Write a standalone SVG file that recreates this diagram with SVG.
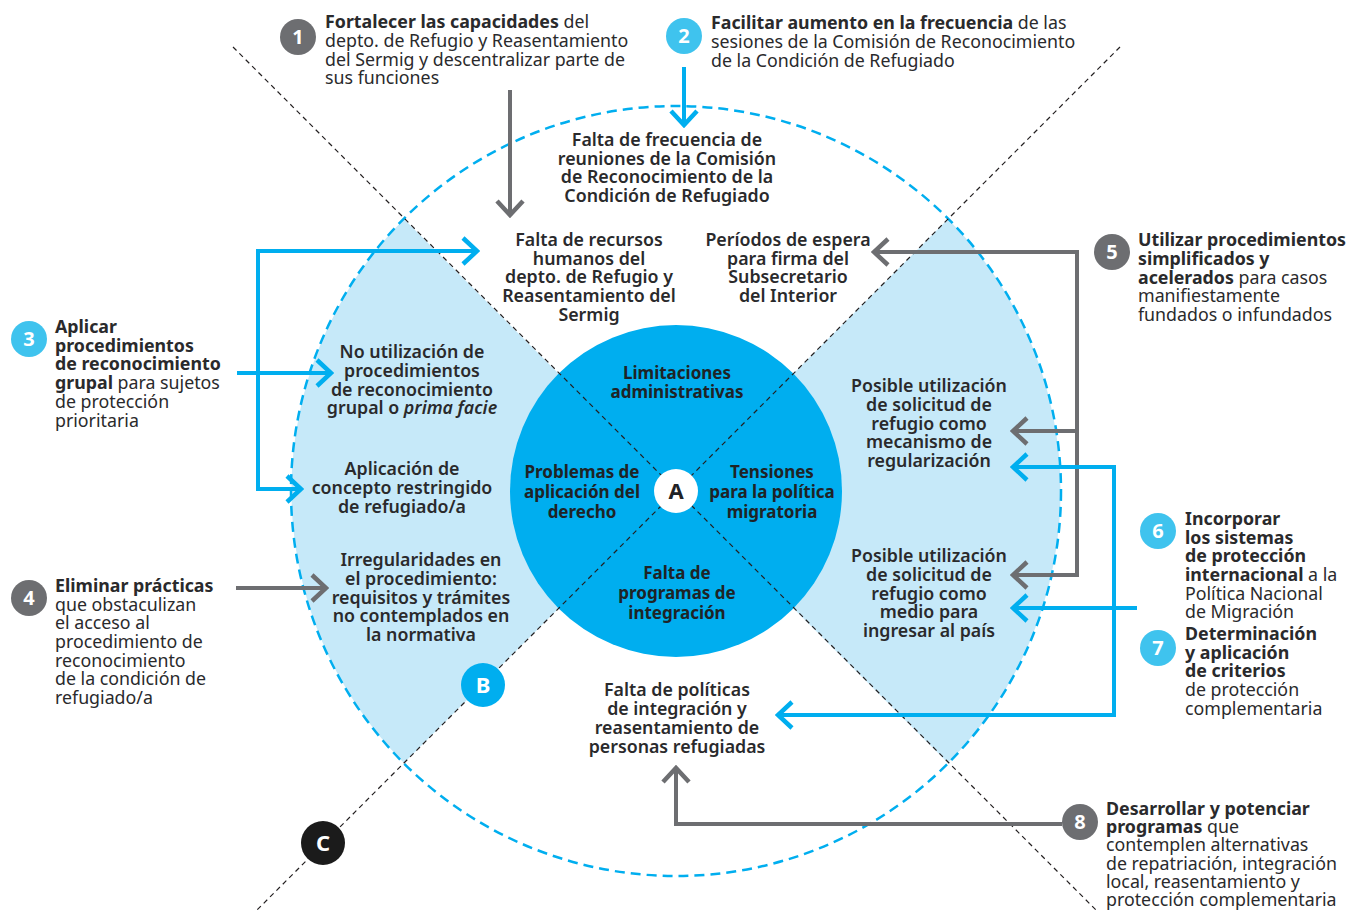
<svg xmlns="http://www.w3.org/2000/svg" width="1353" height="911" viewBox="0 0 1353 911">
<style>
text{font-family:"Noto Sans","Liberation Sans",sans-serif;fill:#2a2a2c;}
.it{font-size:17.8px;}
.b{font-weight:700;}
.nd{font-size:17.8px;font-weight:600;text-anchor:middle;}
.cn{font-size:17px;font-weight:700;text-anchor:middle;fill:#1f2326;}
.num{font-size:20px;font-weight:700;text-anchor:middle;fill:#fff;}
.ab{fill:none;stroke:#00AEEF;stroke-width:4;}
.ag{fill:none;stroke:#6D6E71;stroke-width:4;}
.diag{stroke:#231F20;stroke-width:1.2;stroke-dasharray:5 4;fill:none;}
</style>
<defs>
<marker id="mb" viewBox="0 0 20 30" refX="17" refY="15" markerWidth="20" markerHeight="30" markerUnits="userSpaceOnUse" orient="auto-start-reverse"><path d="M3,2 L17,15 L3,28" fill="none" stroke="#00AEEF" stroke-width="4.5"/></marker>
<marker id="mg" viewBox="0 0 20 30" refX="17" refY="15" markerWidth="20" markerHeight="30" markerUnits="userSpaceOnUse" orient="auto-start-reverse"><path d="M3,2 L17,15 L3,28" fill="none" stroke="#6D6E71" stroke-width="4.5"/></marker>
</defs>
<rect width="1353" height="911" fill="#fff"/>
<g id="background">
<path d="M676,491 L404,219 A385,385 0 0 0 404,763 Z" fill="#C6E9F9"/>
<path d="M676,491 L948,219 A385,385 0 0 1 948,763 Z" fill="#C6E9F9"/>
<circle cx="676" cy="491" r="385" fill="none" stroke="#00AEEF" stroke-width="2.5" stroke-dasharray="10 6"/>
<circle cx="676" cy="491" r="166" fill="#00AEEF"/>
<line class="diag" x1="233" y1="47" x2="1100" y2="914"/>
<line class="diag" x1="1120" y1="47" x2="256" y2="911"/>
</g>
<g id="connectors">
<path class="ag" d="M510,90 V215" marker-end="url(#mg)"/>
<path class="ab" d="M684,67 V125" marker-end="url(#mb)"/>
<path class="ab" d="M237,373 H331" marker-end="url(#mb)"/>
<path class="ab" d="M477,251 H258 V489 H301" marker-start="url(#mb)" marker-end="url(#mb)"/>
<path class="ag" d="M236,588 H326" marker-end="url(#mg)"/>
<path class="ag" d="M874,252 H1077 V575 H1013" marker-start="url(#mg)" marker-end="url(#mg)"/>
<path class="ag" d="M1077,431 H1013" marker-end="url(#mg)"/>
<path class="ab" d="M1137,608 H1013" marker-end="url(#mb)"/>
<path class="ab" d="M1013,467 H1114 V715 H778" marker-start="url(#mb)" marker-end="url(#mb)"/>
<path class="ag" d="M1062,824 H676 V768" marker-end="url(#mg)"/>
</g>
<g id="center-a">
<circle cx="676" cy="491" r="22" fill="#fff"/>
<text x="676" y="499" class="cn" style="font-size:22px">A</text>
</g>
<g id="label-b">
<circle cx="483" cy="685" r="22" fill="#00AEEF"/>
<text x="483" y="693" class="num" style="font-size:22px">B</text>
</g>
<g id="label-c">
<circle cx="323" cy="843" r="22" fill="#1b1b1b"/>
<text x="323" y="851" class="num" style="font-size:22px">C</text>
</g>
<g id="core-limitaciones"><text class="cn" x="677"><tspan x="677" y="379">Limitaciones</tspan><tspan x="677" y="398">administrativas</tspan></text></g>
<g id="core-problemas"><text class="cn" x="582"><tspan x="582" y="478">Problemas de</tspan><tspan x="582" y="498">aplicación del</tspan><tspan x="582" y="518">derecho</tspan></text></g>
<g id="core-tensiones"><text class="cn" x="772"><tspan x="772" y="478">Tensiones</tspan><tspan x="772" y="498">para la política</tspan><tspan x="772" y="518">migratoria</tspan></text></g>
<g id="core-falta"><text class="cn" x="677"><tspan x="677" y="579">Falta de</tspan><tspan x="677" y="599">programas de</tspan><tspan x="677" y="619">integración</tspan></text></g>
<g id="node-frecuencia"><text class="nd"><tspan x="667" y="146">Falta de frecuencia de</tspan><tspan x="667" y="165">reuniones de la Comisión</tspan><tspan x="667" y="183">de Reconocimiento de la</tspan><tspan x="667" y="202">Condición de Refugiado</tspan></text></g>
<g id="node-recursos"><text class="nd"><tspan x="589" y="246">Falta de recursos</tspan><tspan x="589" y="265">humanos del</tspan><tspan x="589" y="283">depto. de Refugio y</tspan><tspan x="589" y="302">Reasentamiento del</tspan><tspan x="589" y="321">Sermig</tspan></text></g>
<g id="node-periodos"><text class="nd"><tspan x="788" y="246">Períodos de espera</tspan><tspan x="788" y="265">para firma del</tspan><tspan x="788" y="283">Subsecretario</tspan><tspan x="788" y="302">del Interior</tspan></text></g>
<g id="node-grupal"><text class="nd"><tspan x="412" y="358">No utilización de</tspan><tspan x="412" y="377">procedimientos</tspan><tspan x="412" y="396">de reconocimiento</tspan><tspan x="412" y="414">grupal o <tspan font-style="italic">prima facie</tspan></tspan></text></g>
<g id="node-concepto"><text class="nd"><tspan x="402" y="475">Aplicación de</tspan><tspan x="402" y="494">concepto restringido</tspan><tspan x="402" y="513">de refugiado/a</tspan></text></g>
<g id="node-irregularidades"><text class="nd"><tspan x="421" y="566">Irregularidades en</tspan><tspan x="421" y="585">el procedimiento:</tspan><tspan x="421" y="604">requisitos y trámites</tspan><tspan x="421" y="622">no contemplados en</tspan><tspan x="421" y="641">la normativa</tspan></text></g>
<g id="node-regularizacion"><text class="nd"><tspan x="929" y="392">Posible utilización</tspan><tspan x="929" y="411">de solicitud de</tspan><tspan x="929" y="430">refugio como</tspan><tspan x="929" y="448">mecanismo de</tspan><tspan x="929" y="467">regularización</tspan></text></g>
<g id="node-ingresar"><text class="nd"><tspan x="929" y="562">Posible utilización</tspan><tspan x="929" y="581">de solicitud de</tspan><tspan x="929" y="600">refugio como</tspan><tspan x="929" y="618">medio para</tspan><tspan x="929" y="637">ingresar al país</tspan></text></g>
<g id="node-politicas"><text class="nd"><tspan x="677" y="696">Falta de políticas</tspan><tspan x="677" y="715">de integración y</tspan><tspan x="677" y="734">reasentamiento de</tspan><tspan x="677" y="753">personas refugiadas</tspan></text></g>
<g id="item-1">
<circle cx="298" cy="37" r="18" fill="#6D6E71"/><text class="num" x="298" y="44">1</text>
<text class="it"><tspan x="325" y="28"><tspan class="b">Fortalecer las capacidades</tspan> del</tspan><tspan x="325" y="47">depto. de Refugio y Reasentamiento</tspan><tspan x="325" y="66">del Sermig y descentralizar parte de</tspan><tspan x="325" y="84">sus funciones</tspan></text>
</g>
<g id="item-2">
<circle cx="684" cy="36" r="18" fill="#3FC3EE"/><text class="num" x="684" y="43">2</text>
<text class="it"><tspan x="711" y="29"><tspan class="b">Facilitar aumento en la frecuencia</tspan> de las</tspan><tspan x="711" y="48">sesiones de la Comisión de Reconocimiento</tspan><tspan x="711" y="67">de la Condición de Refugiado</tspan></text>
</g>
<g id="item-3">
<circle cx="29" cy="339" r="18" fill="#3FC3EE"/><text class="num" x="29" y="346">3</text>
<text class="it"><tspan x="55" y="333" class="b">Aplicar</tspan><tspan x="55" y="352" class="b">procedimientos</tspan><tspan x="55" y="370" class="b">de reconocimiento</tspan><tspan x="55" y="389"><tspan class="b">grupal</tspan> para sujetos</tspan><tspan x="55" y="408">de protección</tspan><tspan x="55" y="427">prioritaria</tspan></text>
</g>
<g id="item-4">
<circle cx="29" cy="598" r="18" fill="#6D6E71"/><text class="num" x="29" y="605">4</text>
<text class="it"><tspan x="55" y="592" class="b">Eliminar prácticas</tspan><tspan x="55" y="611">que obstaculizan</tspan><tspan x="55" y="629">el acceso al</tspan><tspan x="55" y="648">procedimiento de</tspan><tspan x="55" y="667">reconocimiento</tspan><tspan x="55" y="685">de la condición de</tspan><tspan x="55" y="704">refugiado/a</tspan></text>
</g>
<g id="item-5">
<circle cx="1112" cy="252" r="18" fill="#6D6E71"/><text class="num" x="1112" y="259">5</text>
<text class="it"><tspan x="1138" y="246" class="b">Utilizar procedimientos</tspan><tspan x="1138" y="265" class="b">simplificados y</tspan><tspan x="1138" y="284"><tspan class="b">acelerados</tspan> para casos</tspan><tspan x="1138" y="302">manifiestamente</tspan><tspan x="1138" y="321">fundados o infundados</tspan></text>
</g>
<g id="item-6">
<circle cx="1158" cy="531" r="18" fill="#3FC3EE"/><text class="num" x="1158" y="538">6</text>
<text class="it"><tspan x="1185" y="525" class="b">Incorporar</tspan><tspan x="1185" y="544" class="b">los sistemas</tspan><tspan x="1185" y="562" class="b">de protección</tspan><tspan x="1185" y="581"><tspan class="b">internacional</tspan> a la</tspan><tspan x="1185" y="600">Política Nacional</tspan><tspan x="1185" y="618">de Migración</tspan></text>
</g>
<g id="item-7">
<circle cx="1158" cy="648" r="18" fill="#3FC3EE"/><text class="num" x="1158" y="655">7</text>
<text class="it"><tspan x="1185" y="640" class="b">Determinación</tspan><tspan x="1185" y="659" class="b">y aplicación</tspan><tspan x="1185" y="677" class="b">de criterios</tspan><tspan x="1185" y="696">de protección</tspan><tspan x="1185" y="715">complementaria</tspan></text>
</g>
<g id="item-8">
<circle cx="1080" cy="822" r="18" fill="#6D6E71"/><text class="num" x="1080" y="829">8</text>
<text class="it"><tspan x="1106" y="815" class="b">Desarrollar y potenciar</tspan><tspan x="1106" y="833"><tspan class="b">programas</tspan> que</tspan><tspan x="1106" y="851">contemplen alternativas</tspan><tspan x="1106" y="870">de repatriación, integración</tspan><tspan x="1106" y="888">local, reasentamiento y</tspan><tspan x="1106" y="906">protección complementaria</tspan></text>
</g>
</svg>
